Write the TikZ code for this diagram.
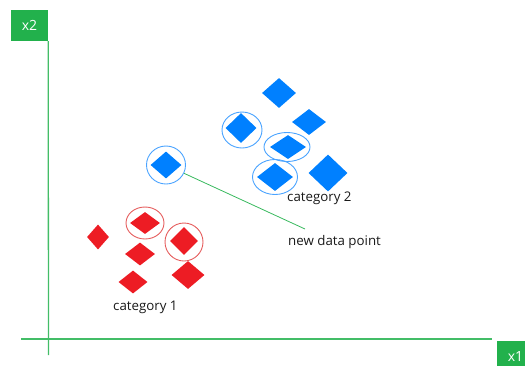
\documentclass[tikz,border=0pt]{standalone}
\usepackage{fontspec}
\setmainfont{Open Sans}
\usepackage{tikz}
\usetikzlibrary{shapes.geometric}
\definecolor{axisgreen}{HTML}{22B14C}
\definecolor{ptred}{HTML}{ED1C24}
\definecolor{ptblue}{HTML}{0080FF}
\definecolor{ringblue}{HTML}{4AA3FF}
\definecolor{ringred}{HTML}{E55C5C}
\tikzset{
  redpt/.style={diamond, fill=ptred, inner sep=0pt},
  bluept/.style={diamond, fill=ptblue, inner sep=0pt},
  axisbox/.style={rectangle, fill=axisgreen, text=white, minimum width=37pt, minimum height=31pt, inner sep=0pt, font=\fontsize{14}{16}\selectfont},
}

\begin{document}
\begin{tikzpicture}[x=1pt, y=-1pt, font=\fontsize{13.3}{15}\selectfont]
  \tikzset{
    bluering/.style={ellipse, draw=ringblue, line width=0.9pt, inner sep=0pt},
    redring/.style={ellipse, draw=ringred, line width=0.9pt, inner sep=0pt},
    axis/.style={draw=axisgreen!85!white, line width=1.3pt},
    link/.style={draw=axisgreen!90!white, line width=0.8pt},
    caption/.style={anchor=base west, inner sep=0pt, text=black!90},
  }
  \useasboundingbox (0,0) rectangle (525,365);

  % Axes
  \node[axisbox] (ybox) at (29.5,25.5) {x2};
  \node[axisbox] (xbox) at (515.5,356.5) {x1};
  \coordinate (ybot) at (48.5,355);
  \coordinate (xleft) at (21,339);
  \coordinate (xright) at (492,339);
  \draw[axis] (ybox.south east) -- (ybot);
  \draw[axis] (xleft) -- (xright);

  % Category 2
  \node[bluept, minimum width=34pt, minimum height=30pt] (b1) at (279,93) {};
  \node[bluept, minimum width=34pt, minimum height=26pt] (b2) at (309,122) {};
  \node[bluept, minimum width=31pt, minimum height=30pt] (b3) at (241,128) {};
  \node[bluept, minimum width=36pt, minimum height=24pt] (b4) at (288,147) {};
  \node[bluept, minimum width=36pt, minimum height=28pt] (b5) at (275,177) {};
  \node[bluept, minimum width=39pt, minimum height=37pt] (b6) at (328,173) {};
  \node[bluering, minimum width=40pt, minimum height=36pt] (rb3) at (242,130) {};
  \node[bluering, minimum width=46pt, minimum height=29pt] (rb4) at (287,147) {};
  \node[bluering, minimum width=45pt, minimum height=35pt] (rb5) at (275,177) {};
  \node[caption] (cat2) at (287,201.7) {category 2};

  % Category 1
  \node[redpt, minimum width=22pt, minimum height=25pt] (r1) at (98,237) {};
  \node[redpt, minimum width=30pt, minimum height=22pt] (r2) at (145,223) {};
  \node[redpt, minimum width=28pt, minimum height=28pt] (r3) at (184,241) {};
  \node[redpt, minimum width=30pt, minimum height=23pt] (r4) at (140,254) {};
  \node[redpt, minimum width=29pt, minimum height=23pt] (r5) at (133,282) {};
  \node[redpt, minimum width=33pt, minimum height=28pt] (r6) at (188,275) {};
  \node[redring, minimum width=38pt, minimum height=32pt] (rr2) at (145,223) {};
  \node[redring, minimum width=38pt, minimum height=38pt] (rr3) at (184,242) {};
  \node[caption] (cat1) at (113,310.5) {category 1};

  % New data point
  \node[bluept, minimum width=31pt, minimum height=27pt] (new) at (166,165) {};
  \node[bluering, minimum width=39pt, minimum height=38pt] (newring) at (166,165) {};
  \coordinate (tip) at (305,229);
  \draw[link] (newring) -- (tip);
  \node[caption] (newlbl) at (288,245.5) {new data point};

\end{tikzpicture}
\end{document}
